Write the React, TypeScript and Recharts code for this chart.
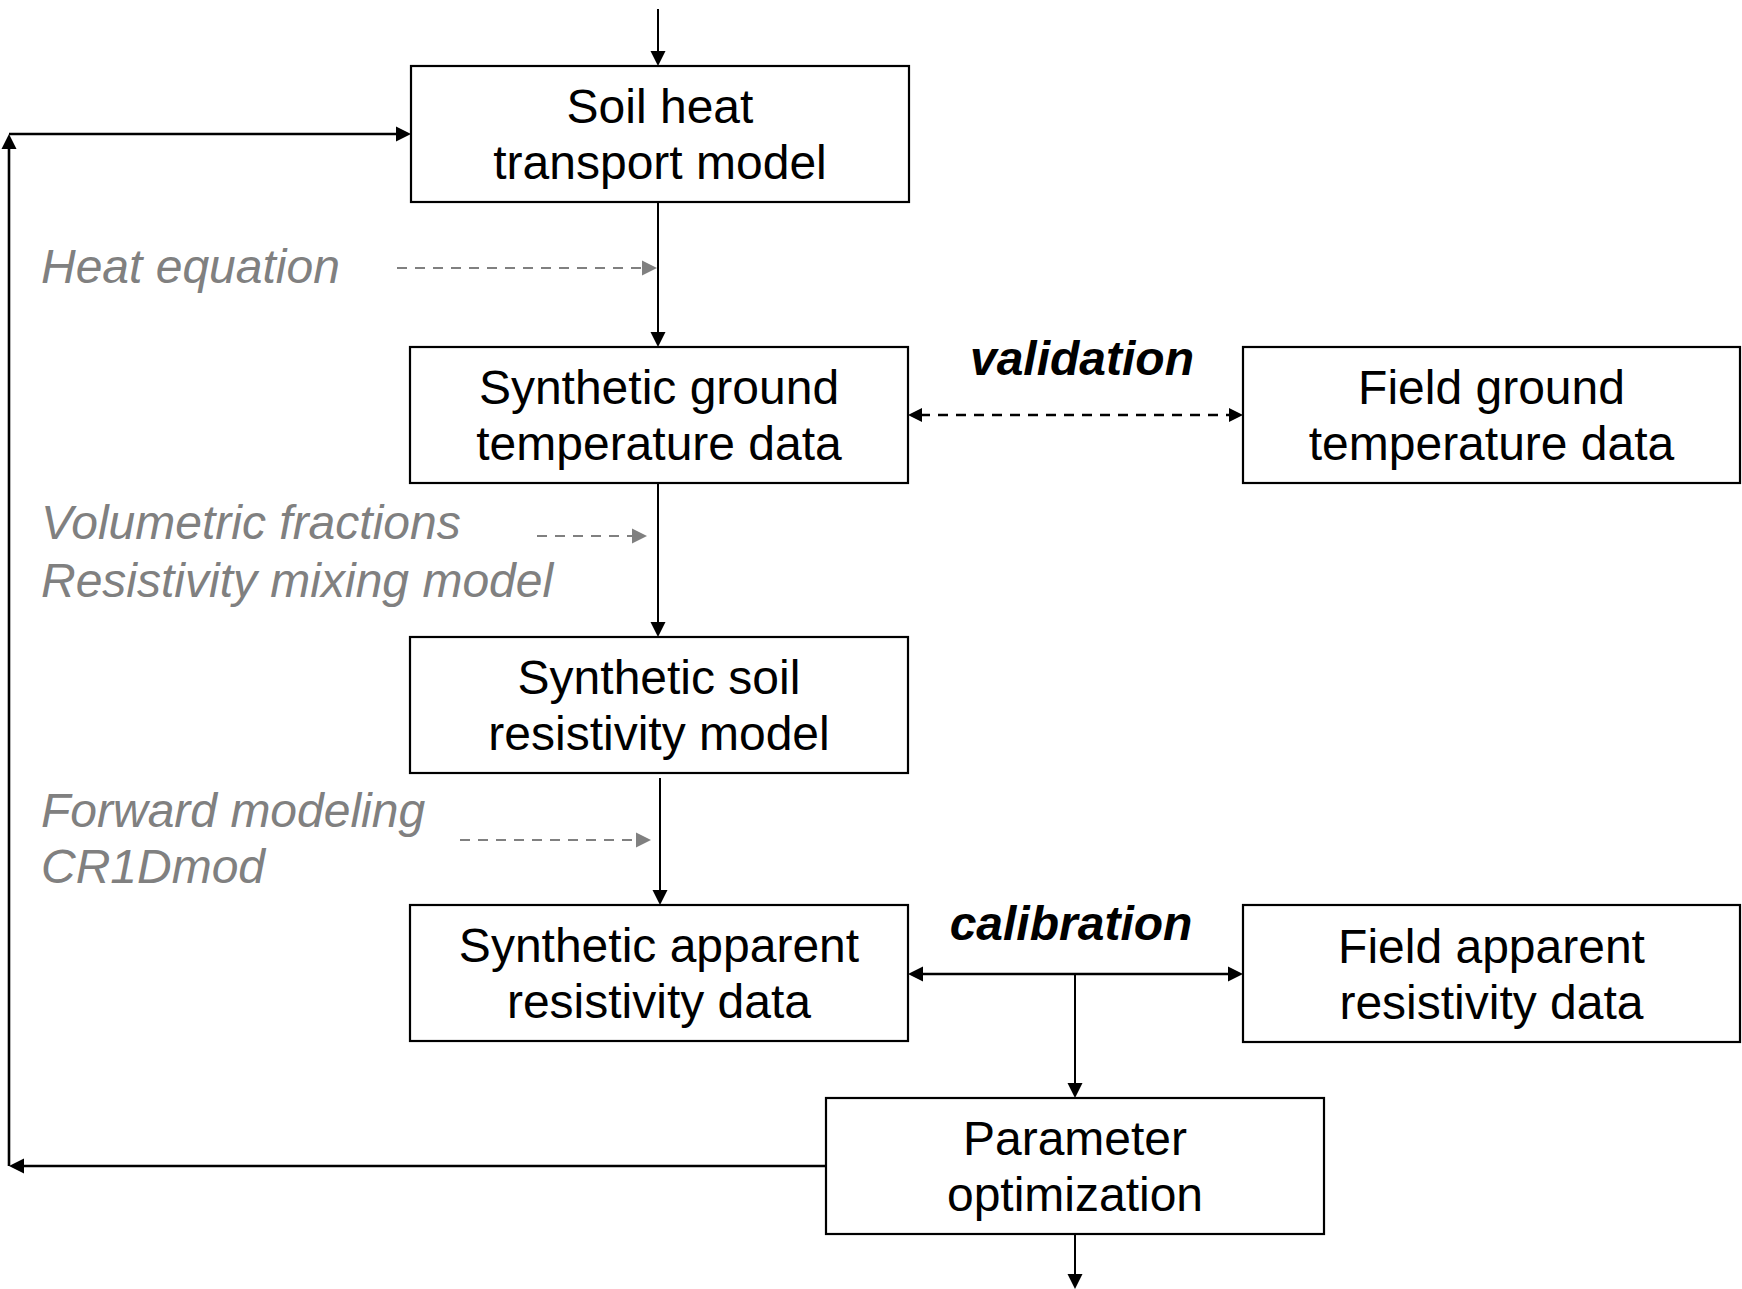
import { ComposedChart, XAxis, YAxis, ReferenceArea, ReferenceLine, Scatter } from "recharts";

/* ── Diagram data (units = reference pixels) ───────────── */

const W = 1742;
const H = 1289;

const boxLabels = [
  ["Soil heat", "transport model"],
  ["Synthetic ground", "temperature data"],
  ["Synthetic soil", "resistivity model"],
  ["Synthetic apparent", "resistivity data"],
  ["Field ground", "temperature data"],
  ["Field apparent", "resistivity data"],
  ["Parameter", "optimization"],
];
const boxLeft = [411, 410, 410, 410, 1243, 1243, 826];
const boxRight = [909, 908, 908, 908, 1740, 1740, 1324];
const boxTop = [66, 347, 637, 905, 347, 905, 1098];
const boxBottom = [202, 483, 773, 1041, 483, 1042, 1234];

// solid connectors: [x1, y1, x2, y2, heads]
const solidArrows: [number, number, number, number, "end" | "both"][] = [
  [658, 9, 658, 66, "end"],
  [658, 202, 658, 347, "end"],
  [658, 483, 658, 637, "end"],
  [660, 778, 660, 905, "end"],
  [908, 974, 1243, 974, "both"],
  [1075, 974, 1075, 1098, "end"],
  [1075, 1234, 1075, 1289, "end"],
  [826, 1166, 9, 1166, "end"],
  [9, 1166, 9, 134, "end"],
  [9, 134, 411, 134, "end"],
];

const validationArrow: [number, number, number, number] = [908, 415, 1243, 415];

const methodArrows: [number, number, number, number][] = [
  [397, 268, 657, 268],
  [537, 536, 647, 536],
  [460, 840, 651, 840],
];

const methodNotes = [
  { x: 41, y: 283, text: "Heat equation" },
  { x: 41, y: 539, text: "Volumetric fractions" },
  { x: 41, y: 597, text: "Resistivity mixing model" },
  { x: 41, y: 827, text: "Forward modeling" },
  { x: 41, y: 883, text: "CR1Dmod" },
];

const linkNotes = [
  { x: 1082, y: 375, text: "validation" },
  { x: 1071, y: 940, text: "calibration" },
];

/* ── Styles ────────────────────────────────────────────── */

const FONT = "'Liberation Sans', Arial, sans-serif";
const FONT_SIZE = 48;
const GREY = "#808080";

/* ── Shapes ────────────────────────────────────────────── */

function head(x1: number, y1: number, x2: number, y2: number, len: number, half: number, color: string) {
  const dx = x2 - x1;
  const dy = y2 - y1;
  const d = Math.hypot(dx, dy) || 1;
  const ux = dx / d;
  const uy = dy / d;
  const bx = x2 - ux * len;
  const by = y2 - uy * len;
  const pts = `${x2},${y2} ${bx - uy * half},${by + ux * half} ${bx + uy * half},${by - ux * half}`;
  return <polygon points={pts} fill={color} stroke="none" />;
}

function ArrowShape(props: any) {
  const { x1, y1, x2, y2, heads, color, width, dash, len, half } = props;
  if (x1 == null) return null;
  // stop the shaft at the base of the head so dashes do not poke through
  const d = Math.hypot(x2 - x1, y2 - y1) || 1;
  const ux = (x2 - x1) / d;
  const uy = (y2 - y1) / d;
  const sx = heads === "both" ? x1 + ux * (len - 2) : x1;
  const sy = heads === "both" ? y1 + uy * (len - 2) : y1;
  return (
    <g>
      <line
        x1={sx}
        y1={sy}
        x2={x2 - ux * (len - 2)}
        y2={y2 - uy * (len - 2)}
        stroke={color}
        strokeWidth={width}
        strokeDasharray={dash}
      />
      {head(x1, y1, x2, y2, len, half, color)}
      {heads === "both" ? head(x2, y2, x1, y1, len, half, color) : null}
    </g>
  );
}

function BoxShape(props: any) {
  const { x, y, width, height, lines } = props;
  if (x == null) return null;
  const cx = x + width / 2;
  const cy = y + height / 2;
  return (
    <g>
      <rect x={x} y={y} width={width} height={height} fill="#fff" stroke="#000" strokeWidth={2.2} />
      <text x={cx} y={cy - 11} textAnchor="middle" fontFamily={FONT} fontSize={FONT_SIZE} fill="#000">
        {lines[0]}
      </text>
      <text x={cx} y={cy + 45} textAnchor="middle" fontFamily={FONT} fontSize={FONT_SIZE} fill="#000">
        {lines[1]}
      </text>
    </g>
  );
}

function MethodText(props: any) {
  const { cx, cy, payload } = props;
  return (
    <text x={cx} y={cy} fontFamily={FONT} fontSize={FONT_SIZE} fontStyle="italic" fill={GREY}>
      {payload.text}
    </text>
  );
}

function LinkText(props: any) {
  const { cx, cy, payload } = props;
  return (
    <text
      x={cx}
      y={cy}
      textAnchor="middle"
      fontFamily={FONT}
      fontSize={FONT_SIZE}
      fontStyle="italic"
      fontWeight="bold"
      fill="#000"
    >
      {payload.text}
    </text>
  );
}

export default function App() {
  return (
    <div style={{ position: "absolute", left: 0, top: 0, background: "#fff" }}>
      <ComposedChart width={W} height={H} margin={{ top: 0, right: 0, bottom: 0, left: 0 }}>
        <XAxis type="number" dataKey="x" domain={[0, W]} hide allowDataOverflow />
        <YAxis type="number" dataKey="y" domain={[0, H]} reversed hide allowDataOverflow />

        {solidArrows.map(([x1, y1, x2, y2, heads], i) => (
          <ReferenceLine
            key={`s${i}`}
            segment={[
              { x: x1, y: y1 },
              { x: x2, y: y2 },
            ]}
            ifOverflow="visible"
            shape={(p: any) => (
              <ArrowShape
                {...p}
                heads={heads}
                color="#000"
                width={i >= 7 || i === 4 ? 2.6 : 2}
                len={15}
                half={7.5}
              />
            )}
          />
        ))}

        <ReferenceLine
          segment={[
            { x: validationArrow[0], y: validationArrow[1] },
            { x: validationArrow[2], y: validationArrow[3] },
          ]}
          ifOverflow="visible"
          shape={(p: any) => (
            <ArrowShape {...p} heads="both" color="#000" width={2.5} dash="10 8" len={14} half={7} />
          )}
        />

        {methodArrows.map(([x1, y1, x2, y2], i) => (
          <ReferenceLine
            key={`m${i}`}
            segment={[
              { x: x1, y: y1 },
              { x: x2, y: y2 },
            ]}
            ifOverflow="visible"
            shape={(p: any) => (
              <ArrowShape {...p} heads="end" color={GREY} width={2.2} dash="10 8" len={15} half={7.5} />
            )}
          />
        ))}

        {boxLabels.map((lines, i) => (
          <ReferenceArea
            key={`b${i}`}
            x1={boxLeft[i]}
            x2={boxRight[i]}
            y1={boxTop[i]}
            y2={boxBottom[i]}
            ifOverflow="visible"
            shape={(p: any) => <BoxShape {...p} lines={lines} />}
          />
        ))}

        <Scatter data={methodNotes} dataKey="y" shape={MethodText} isAnimationActive={false} />
        <Scatter data={linkNotes} dataKey="y" shape={LinkText} isAnimationActive={false} />
      </ComposedChart>
    </div>
  );
}
